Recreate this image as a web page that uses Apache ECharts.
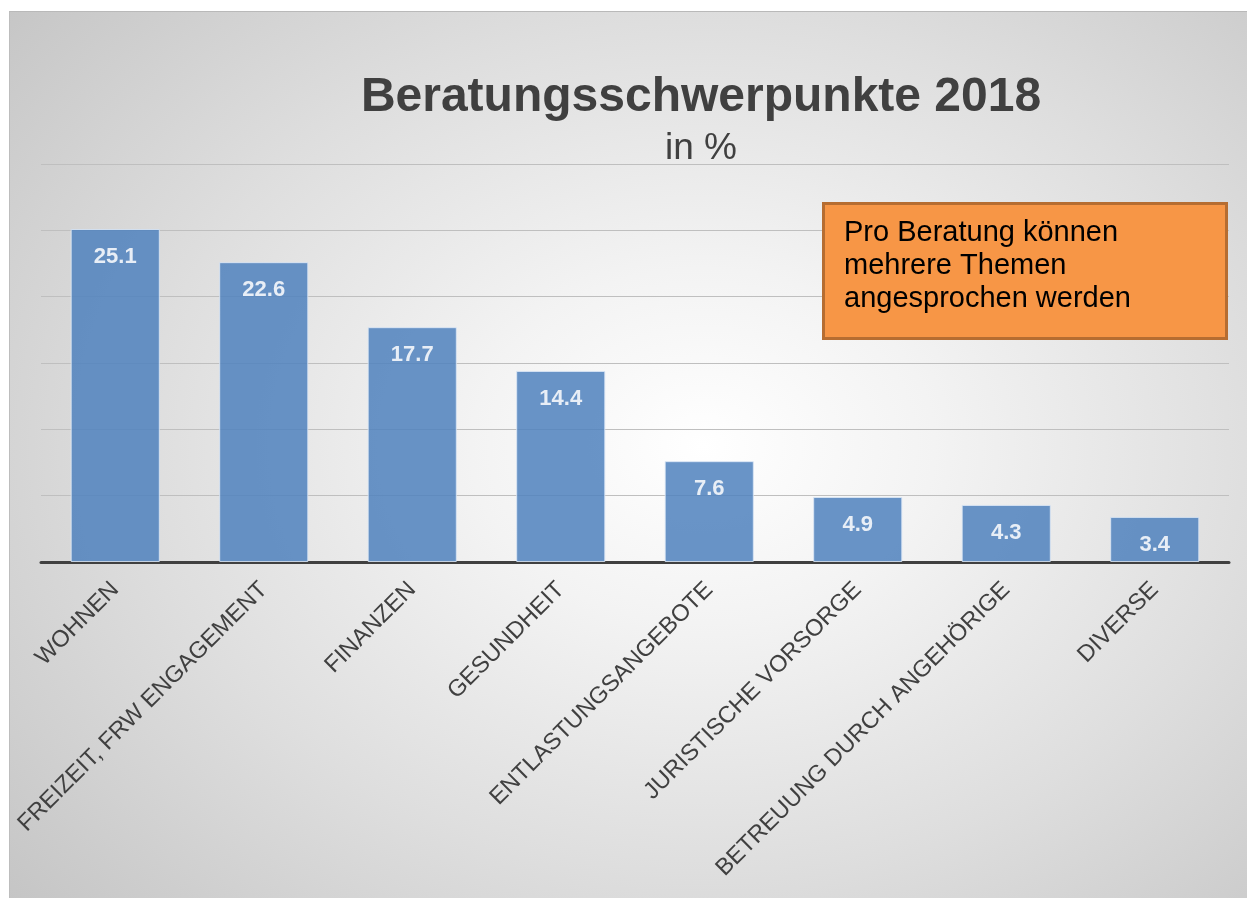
<!DOCTYPE html>
<html>
<head>
<meta charset="utf-8">
<script src="https://cdn.jsdelivr.net/npm/echarts@6/dist/echarts.min.js"></script>
<style>
  html, body { margin: 0; padding: 0; background: #ffffff; width: 1247px; height: 898px; overflow: hidden; }
  #chart {
    position: absolute; left: 9px; top: 11px; width: 1238px; height: 887px;
    background: radial-gradient(ellipse 75% 80% at 56% 49%, #ffffff 0%, #f3f3f3 25%, #dedede 60%, #c4c4c4 100%);
    border-top: 1px solid #b9b9b9; border-left: 1px solid #bdbdbd; box-sizing: border-box;
  }
</style>
</head>
<body>
<div id="chart"></div>
<script>
const categories = ['WOHNEN', 'FREIZEIT, FRW ENGAGEMENT', 'FINANZEN', 'GESUNDHEIT', 'ENTLASTUNGSANGEBOTE', 'JURISTISCHE VORSORGE', 'BETREUUNG DURCH ANGEHÖRIGE', 'DIVERSE'];
const values = [25.1, 22.6, 17.7, 14.4, 7.6, 4.9, 4.3, 3.4];
const titleText = 'Beratungsschwerpunkte 2018';
const subtitleText = 'in %';
const noteLines = ['Pro Beratung können', 'mehrere Themen', 'angesprochen werden'];

const FONT = '"Liberation Sans", Arial, sans-serif';
const chart = echarts.init(document.getElementById('chart'), null, { renderer: 'canvas' });

chart.setOption({
  backgroundColor: 'transparent',
  animation: false,
  textStyle: { fontFamily: FONT },
  title: [
    { text: titleText, left: 686, top: 57, textAlign: 'center',
      textStyle: { fontFamily: FONT, fontSize: 48, fontWeight: 'bold', color: '#404040', lineHeight: 48 } },
    { text: subtitleText, left: 686, top: 113, textAlign: 'center',
      textStyle: { fontFamily: FONT, fontSize: 37, fontWeight: 'normal', color: '#404040', lineHeight: 37 } }
  ],
  grid: { left: 31, top: 152, width: 1188, height: 398, containLabel: false },
  xAxis: {
    type: 'category',
    data: categories,
    axisTick: { show: false },
    axisLine: { show: true, lineStyle: { color: '#404040', width: 3 } },
    axisLabel: { interval: 0, rotate: 45, margin: 24, fontSize: 23.5, color: '#404040', fontFamily: FONT }
  },
  yAxis: {
    type: 'value', min: 0, max: 30, interval: 5,
    axisLabel: { show: false },
    axisLine: { show: false },
    axisTick: { show: false },
    splitLine: { show: true, lineStyle: { color: '#bfbfbf', width: 1 } }
  },
  series: [{
    type: 'bar',
    data: values,
    barCategoryGap: '40%',
    itemStyle: { color: '#4f81bd', opacity: 0.85, borderColor: '#dbe6f4', borderWidth: 1 },
    label: {
      show: true, position: 'insideTop', distance: 17,
      fontFamily: FONT, fontSize: 22, fontWeight: 'bold', color: '#ffffff',
      formatter: p => p.value.toFixed(1)
    }
  }],
  graphic: [
    { type: 'rect', left: 812, top: 190, shape: { width: 403, height: 135 },
      style: { fill: '#f79646', stroke: '#b66d31', lineWidth: 3 }, z: 10 },
    { type: 'text', left: 834, top: 204, z: 11,
      style: { text: noteLines.join('\n'), font: '29px ' + FONT, fill: '#000000', lineHeight: 33 } }
  ]
});
</script>
</body>
</html>
